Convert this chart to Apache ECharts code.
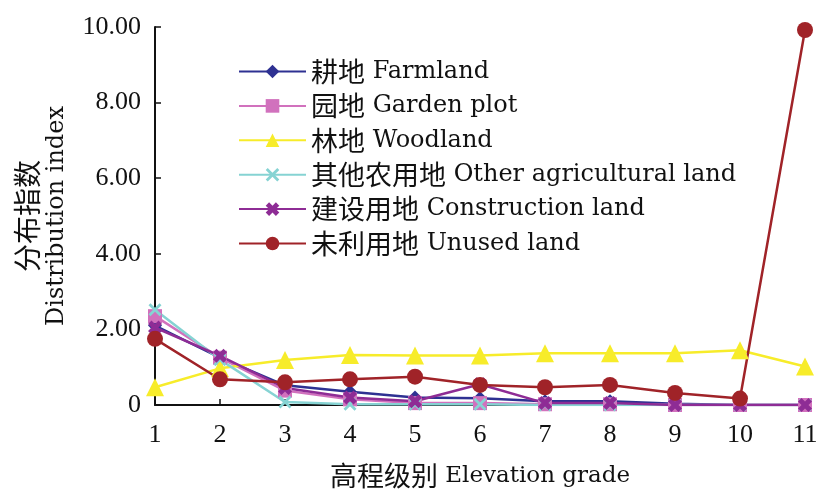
<!DOCTYPE html>
<html>
<head>
<meta charset="utf-8">
<script src="https://cdn.jsdelivr.net/npm/echarts@6/dist/echarts.min.js"></script>
<style>
  html, body { margin: 0; padding: 0; background: #fff; }
  #chart { width: 818px; height: 494px; }
</style>
</head>
<body>
<div id="chart"></div>
<script>
// Elevation grades on the x axis
const grades = ['1', '2', '3', '4', '5', '6', '7', '8', '9', '10', '11'];

// Distribution index of each land-use type per elevation grade
const farmland     = [2.10, 1.25, 0.52, 0.35, 0.20, 0.18, 0.10, 0.10, 0.03, 0.00, 0.00];
const gardenPlot   = [2.35, 1.25, 0.38, 0.15, 0.05, 0.05, 0.02, 0.02, 0.00, 0.00, 0.00];
const woodland     = [0.47, 0.97, 1.19, 1.32, 1.31, 1.31, 1.37, 1.37, 1.37, 1.45, 1.02];
const otherAgri    = [2.52, 1.20, 0.08, 0.02, 0.02, 0.02, 0.00, 0.00, 0.00, 0.00, 0.00];
const construction = [2.05, 1.30, 0.45, 0.20, 0.10, 0.55, 0.05, 0.05, 0.00, 0.00, 0.00];
const unused       = [1.75, 0.68, 0.60, 0.68, 0.75, 0.53, 0.47, 0.53, 0.32, 0.17, 9.92];

// Legend entries: Chinese name + English name
const legendCN = ['耕地', '园地', '林地', '其他农用地', '建设用地', '未利用地'];
const legendEN = ['Farmland', 'Garden plot', 'Woodland', 'Other agricultural land', 'Construction land', 'Unused land'];
const legendNames = legendCN.map((c, i) => c + ' ' + legendEN[i]);

const CJK = '"Noto Sans CJK SC", sans-serif';
const LATIN = '"DejaVu Serif", "Liberation Serif", serif';
const DIGITS = '"Liberation Serif", serif';

const thinX = 'path://M1.5,0 L5,3.5 L8.5,0 L10,1.5 L6.5,5 L10,8.5 L8.5,10 L5,6.5 L1.5,10 L0,8.5 L3.5,5 L0,1.5 Z';
const boldX = 'path://M2.5,0 L5,2.5 L7.5,0 L10,2.5 L7.5,5 L10,7.5 L7.5,10 L5,7.5 L2.5,10 L0,7.5 L2.5,5 L0,2.5 Z';

function lineSeries(name, data, color, symbol, size) {
  return {
    name: name,
    type: 'line',
    data: data,
    symbol: symbol,
    symbolSize: size,
    showAllSymbol: true,
    lineStyle: { color: color, width: 2.5 },
    itemStyle: { color: color, borderWidth: 0 },
    emphasis: { disabled: true }
  };
}

const chart = echarts.init(document.getElementById('chart'), null, { renderer: 'canvas' });
chart.setOption({
  animation: false,
  backgroundColor: '#ffffff',
  grid: { left: 155, right: 13, top: 27, bottom: 89, containLabel: false, outerBoundsMode: 'none' },
  legend: {
    orient: 'vertical',
    left: 233,
    top: 53,
    itemWidth: 67,
    itemHeight: 17,
    itemGap: 7.4,
    data: legendNames,
    formatter: name => {
      const i = legendNames.indexOf(name);
      return '{c|' + legendCN[i] + '}{l| ' + legendEN[i] + '}';
    },
    textStyle: {
      color: '#111',
      rich: {
        c: { fontFamily: CJK, fontSize: 27, color: '#111', lineHeight: 28 },
        l: { fontFamily: LATIN, fontSize: 24, color: '#111', lineHeight: 28 }
      }
    }
  },
  xAxis: {
    type: 'category',
    data: grades,
    boundaryGap: false,
    name: '{c|高程级别}{l| Elevation grade}',
    nameLocation: 'middle',
    nameGap: 57,
    nameTextStyle: {
      color: '#111',
      rich: {
        c: { fontFamily: CJK, fontSize: 27, color: '#111', lineHeight: 28 },
        l: { fontFamily: LATIN, fontSize: 23, color: '#111', lineHeight: 28 }
      }
    },
    axisLine: { lineStyle: { color: '#111', width: 2 } },
    axisTick: { inside: true, length: 6, lineStyle: { color: '#111', width: 1.5 } },
    axisLabel: { fontFamily: DIGITS, fontSize: 26, color: '#111', margin: 17 },
    splitLine: { show: false }
  },
  yAxis: {
    type: 'value',
    min: 0,
    max: 10,
    interval: 2,
    name: '{c|分布指数}\n{l|Distribution index}',
    nameLocation: 'middle',
    nameGap: 85,
    nameRotate: 90,
    nameTextStyle: {
      color: '#111',
      rich: {
        c: { fontFamily: CJK, fontSize: 28, color: '#111', lineHeight: 31 },
        l: { fontFamily: LATIN, fontSize: 24, color: '#111', lineHeight: 27 }
      }
    },
    axisLine: { show: true, lineStyle: { color: '#111', width: 2 } },
    axisTick: { show: true, inside: true, length: 6, lineStyle: { color: '#111', width: 1.5 } },
    axisLabel: {
      fontFamily: DIGITS, fontSize: 26, color: '#111', margin: 14,
      formatter: v => (v === 0 ? '0' : v.toFixed(2))
    },
    splitLine: { show: false }
  },
  series: [
    lineSeries(legendNames[0], farmland, '#2e3192', 'diamond', 14),
    lineSeries(legendNames[1], gardenPlot, '#d171bd', 'rect', 14),
    lineSeries(legendNames[2], woodland, '#f7ec2a', 'triangle', 18),
    lineSeries(legendNames[3], otherAgri, '#86d3d3', thinX, 13),
    lineSeries(legendNames[4], construction, '#8e2c95', boldX, 14),
    lineSeries(legendNames[5], unused, '#a02328', 'circle', 16)
  ]
});
</script>
</body>
</html>
